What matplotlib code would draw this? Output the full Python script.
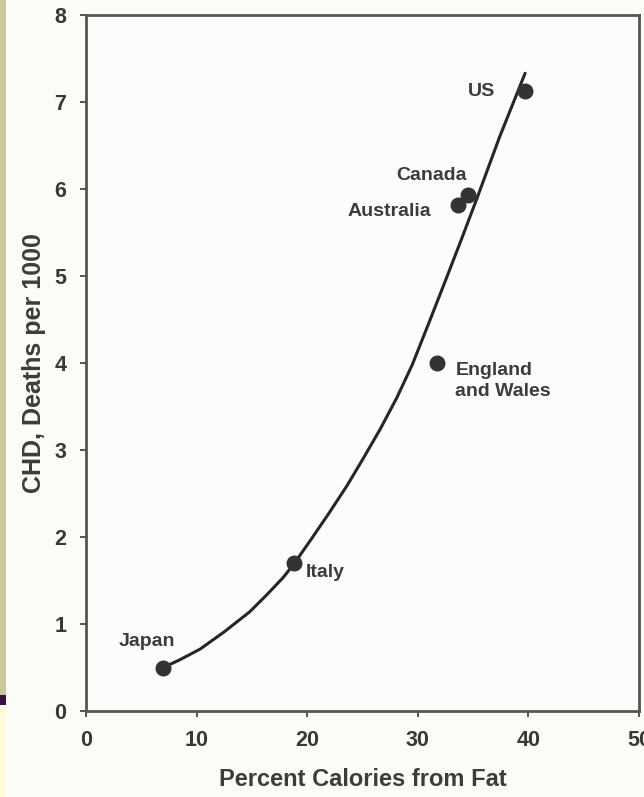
import matplotlib
matplotlib.use("Agg")
import matplotlib.pyplot as plt
from matplotlib.patches import Rectangle

countries = ["Japan", "Italy", "England\nand Wales", "Australia", "Canada", "US"]
fat_pct = [7.0, 18.8, 31.7, 33.6, 34.5, 39.7]
chd_deaths = [0.49, 1.70, 4.00, 5.82, 5.93, 7.13]

curve_x = [7.0, 8.5, 10.3, 12.5, 14.8, 16.3, 17.8, 18.8, 20.5, 22.0, 23.6, 25.1, 26.6,
           28.1, 29.5, 31.0, 32.6, 34.0, 35.4, 37.4, 39.7]
curve_y = [0.50, 0.59, 0.71, 0.91, 1.14, 1.33, 1.53, 1.69, 2.00, 2.28, 2.59, 2.91, 3.24,
           3.60, 3.98, 4.46, 4.98, 5.44, 5.91, 6.60, 7.33]

x_ticks = [0, 10, 20, 30, 40, 50]
y_ticks = [0, 1, 2, 3, 4, 5, 6, 7, 8]

plt.rcParams['font.family'] = ['Liberation Sans', 'DejaVu Sans']
ink = "#383838"

W, H = 644, 797
fig = plt.figure(figsize=(W / 100, H / 100), dpi=100)
fig.patch.set_facecolor("#fbfbf8")

# slide decoration on the left edge
fig.patches.append(Rectangle((0, (H - 695) / H), 6 / W, 695 / H, transform=fig.transFigure,
                             facecolor="#c9c897", edgecolor="none", zorder=0))
fig.patches.append(Rectangle((0, (H - 705) / H), 6 / W, 10 / H, transform=fig.transFigure,
                             facecolor="#3a1040", edgecolor="none", zorder=0))
fig.patches.append(Rectangle((0, 0), 6 / W, (H - 705) / H, transform=fig.transFigure,
                             facecolor="#fffbdc", edgecolor="none", zorder=0))

left, right, top, bottom = 86, 639, 15, 711
ax = fig.add_axes([left / W, (H - bottom) / H, (right - left) / W, (bottom - top) / H])
ax.set_facecolor("#fcfcfa")
ax.set_xlim(0, 50)
ax.set_ylim(0, 8)
ax.set_xticks(x_ticks)
ax.set_yticks(y_ticks)
for s in ax.spines.values():
    s.set_color("#555555")
    s.set_linewidth(2.0)
ax.tick_params(direction="out", length=4, width=1.4, color="#555555",
               labelsize=15.5, labelcolor=ink)
ax.tick_params(axis="y", pad=10)
ax.tick_params(axis="x", pad=10)
for lab in ax.get_xticklabels() + ax.get_yticklabels():
    lab.set_fontweight("bold")

ax.plot(curve_x, curve_y, color="#262626", lw=2.2, solid_capstyle="round",
        solid_joinstyle="round", zorder=2)
ax.plot(fat_pct, chd_deaths, "o", color="#333333", markersize=10.5, zorder=3)

label_pos = {
    "Japan": ((5.5, 0.80), "center"),
    "Italy": ((19.9, 1.59), "left"),
    "England\nand Wales": ((33.4, 3.79), "left"),
    "Australia": ((31.2, 5.74), "right"),
    "Canada": ((31.2, 6.16), "center"),
    "US": ((35.8, 7.12), "center"),
}
for c in countries:
    (tx, ty), ha = label_pos[c]
    ax.text(tx, ty, c, ha=ha, va="center", fontsize=14, fontweight="bold",
            color="#3c3c3c", linespacing=1.3)

ax.set_xlabel("Percent Calories from Fat", fontsize=17, fontweight="bold",
              color="#3c3c3c", labelpad=12)
ax.set_ylabel("CHD, Deaths per 1000", fontsize=18, fontweight="bold",
              color="#3c3c3c", labelpad=6)

fig.savefig("out.png", dpi=100, facecolor=fig.get_facecolor())
